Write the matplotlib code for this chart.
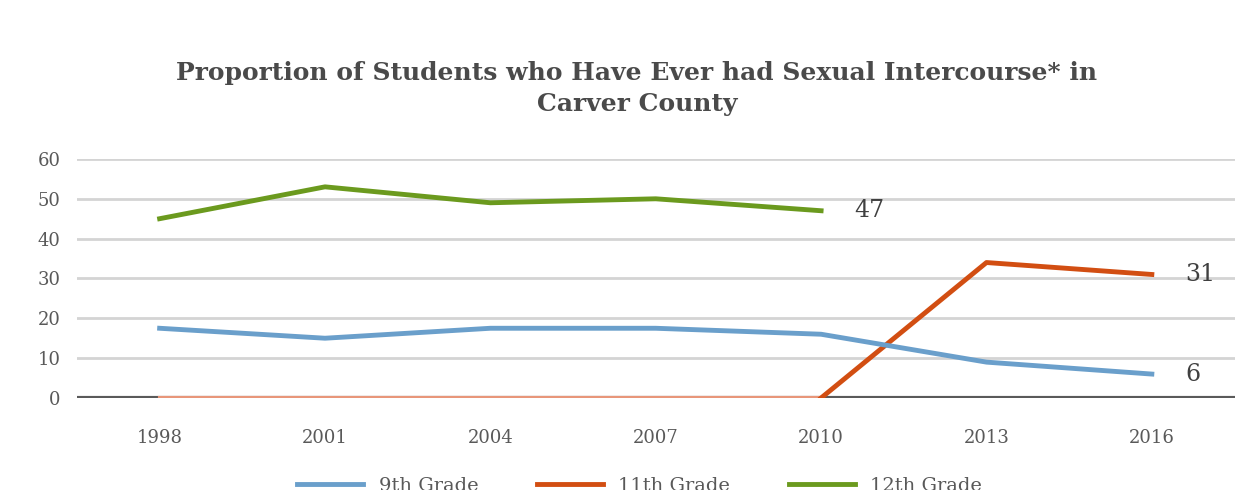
import matplotlib
matplotlib.use("Agg")
import matplotlib.pyplot as plt
import numpy as np

# values
years = ["1998", "2001", "2004", "2007", "2010", "2013", "2016"]
grade9 = [17.5, 15, 17.5, 17.5, 16, 9, 6]
grade11 = [0, 0, 0, 0, 0, 34, 31]
grade12 = [45, 53, 49, 50, 47, np.nan, np.nan]
yticks = [0, 10, 20, 30, 40, 50, 60]
end_labels = [("47", 4, 47), ("31", 6, 31), ("6", 6, 6)]

blue = "#6A9FCB"
orange = "#D24E12"
orange_light = "#E8967A"
green = "#6B9A1E"
txt = "#595959"

plt.rcParams["font.family"] = ["DejaVu Serif"]

fig = plt.figure(figsize=(12.37, 4.9), dpi=100)
ax = fig.add_axes([0.0622, 0.1878, 0.9358, 0.4878])

x = np.arange(len(years))

for y in yticks[1:]:
    ax.axhline(y, color="#D4D4D4", lw=2, zorder=0)
ax.axhline(0, color="#5A5A5A", lw=3, zorder=1)

# zero part of 11th grade is drawn lighter over the base line
ax.plot(x[:5], grade11[:5], color=orange_light, lw=3, zorder=2)
ax.plot(x[4:], grade11[4:], color=orange, lw=3.5, zorder=3, label="11th Grade")
ax.plot(x, grade9, color=blue, lw=3.5, zorder=3, label="9th Grade")
ax.plot(x, grade12, color=green, lw=3.5, zorder=3, label="12th Grade")

for s, i, v in end_labels:
    ax.text(i + 0.2, v, s, fontsize=17, color="#404040", va="center", ha="left")

ax.set_xlim(-0.5, 6.5)
ax.set_ylim(0, 60)
ax.set_xticks(x)
ax.set_xticklabels(years)
ax.set_yticks(yticks)
ax.tick_params(length=0, labelsize=13, labelcolor=txt)
ax.tick_params(axis="x", pad=22)
ax.tick_params(axis="y", pad=12)
for sp in ax.spines.values():
    sp.set_visible(False)

fig.text(0.515, 0.82, "Proportion of Students who Have Ever had Sexual Intercourse* in\nCarver County",
         ha="center", va="center", fontsize=18, fontweight="heavy", color="#4A4A4A", linespacing=1.35)

h, l = ax.get_legend_handles_labels()
order = [1, 0, 2]
fig.legend([h[i] for i in order], [l[i] for i in order], loc="center", bbox_to_anchor=(0.517, 0.008),
           ncol=3, frameon=False, fontsize=14, handlelength=3.4, columnspacing=3, labelcolor=txt)

fig.savefig("out.png", dpi=100)
